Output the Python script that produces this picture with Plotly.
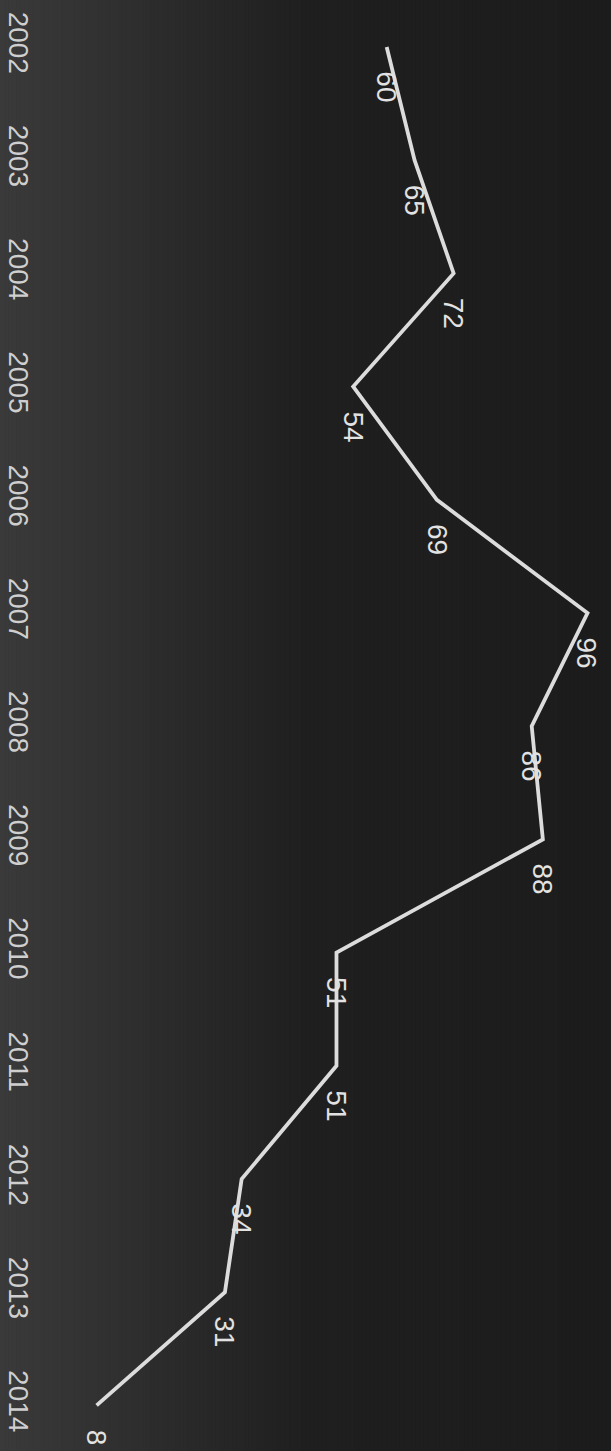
import plotly.graph_objects as go

years = [2002, 2003, 2004, 2005, 2006, 2007, 2008, 2009, 2010, 2011, 2012, 2013, 2014]
values = [60, 65, 72, 54, 69, 96, 86, 88, 51, 51, 34, 31, 8]
year_labels = [str(y) for y in years]

W, H = 611, 1451

fig = go.Figure()
fig.add_trace(go.Scatter(
    x=values, y=years, mode="lines",
    line=dict(color="#dcdcdc", width=3.8),
    hoverinfo="skip",
))

# value labels (rotated like the scanned page)
for v, yr in zip(values, years):
    s = str(v)
    fig.add_annotation(
        x=v, y=yr, xref="x", yref="y", text=s, showarrow=False,
        textangle=90, xanchor="center", yanchor="middle",
        yshift=-(24 + 8 * len(s)),
        font=dict(family="Liberation Sans, Arial, sans-serif", size=28, color="#e2e2e2"),
    )

# background gradient stripes (left lighter -> right darker)
n = 150
shapes = []
for i in range(n):
    x0 = i / n
    x1 = (i + 1) / n
    t = (i + 0.5) / n
    if t < 0.5:
        c = 58 - (58 - 31) * (t / 0.5)
    else:
        c = 31 - (31 - 28) * ((t - 0.5) / 0.5)
    c = int(round(c))
    shapes.append(dict(type="rect", xref="paper", yref="paper", x0=x0, x1=x1 + 0.002, y0=0, y1=1,
                       fillcolor=f"rgb({c},{c},{c})", line=dict(width=0), layer="below"))

fig.update_layout(
    width=W, height=H,
    margin=dict(l=0, r=0, t=0, b=0),
    paper_bgcolor="#1c1c1c",
    plot_bgcolor="rgba(0,0,0,0)",
    showlegend=False,
    shapes=shapes,
    xaxis=dict(range=[(0 - 52) / 5.578, (W - 52) / 5.578], visible=False),
    yaxis=dict(
        range=[2002 + (H - 47) / 113.2, 2002 - 47 / 113.2],
        tickmode="array", tickvals=years, ticktext=year_labels,
        tickangle=90, ticks="", showgrid=False, zeroline=False, showline=False,
        ticklabelposition="inside",
        tickfont=dict(family="Liberation Sans, Arial, sans-serif", size=28, color="#cfcfcf"),
    ),
)

fig.write_html(
    "out.html",
    config={"displayModeBar": False, "staticPlot": True},
    post_script="document.body.style.margin='0';document.body.style.overflow='hidden';document.body.style.background='#1c1c1c';",
)
